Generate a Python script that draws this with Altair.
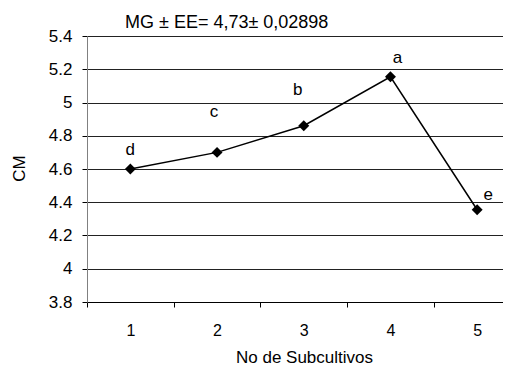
import altair as alt
import pandas as pd

subcultivos = [1, 2, 3, 4, 5]
cm = [4.60, 4.70, 4.86, 5.155, 4.355]
letters = ["d", "c", "b", "a", "e"]

title_text = "MG ± EE= 4,73± 0,02898"
x_title = "No de Subcultivos"
y_title = "CM"
y_ticks = [3.8, 4.0, 4.2, 4.4, 4.6, 4.8, 5.0, 5.2, 5.4]
x_axis_values = [0.5, 1, 1.5, 2, 2.5, 3, 3.5, 4, 4.5, 5]

df = pd.DataFrame({"x": subcultivos, "y": cm, "letter": letters})

FONT = "Liberation Sans"

x_enc = alt.X(
    "x:Q",
    scale=alt.Scale(domain=[0.5, 5.298], nice=False, zero=False),
    axis=alt.Axis(
        title=x_title,
        values=x_axis_values,
        tickCount=len(x_axis_values) + 2,
        grid=False,
        domainColor="black",
        tickColor="black",
        tickSize=5,
        tickOpacity={"condition": {"test": "datum.value % 1 === 0", "value": 0}, "value": 1},
        labelExpr="datum.value % 1 === 0 ? format(datum.value, 'd') : ''",
        labelOverlap=False,
        labelFlush=False,
        labelPadding=15,
        labelFont=FONT,
        labelFontSize=16,
        labelColor="black",
        titleFont=FONT,
        titleFontSize=17,
        titleFontWeight="normal",
        titleColor="black",
        titleBaseline="alphabetic",
        titleX=217,
        titleY=60,
    ),
)

y_enc = alt.Y(
    "y:Q",
    scale=alt.Scale(domain=[3.8, 5.4], nice=False, zero=False),
    axis=alt.Axis(
        title=y_title,
        values=y_ticks,
        tickCount=len(y_ticks) + 2,
        format=".1~f",
        grid=True,
        gridColor="#222222",
        gridWidth=1,
        domainColor="#808080",
        tickColor="black",
        tickSize=5,
        labelPadding=10,
        labelOverlap=False,
        labelFont=FONT,
        labelFontSize=17,
        labelColor="black",
        titleFont=FONT,
        titleFontSize=17,
        titleFontWeight="normal",
        titleColor="black",
        titleBaseline="middle",
        titleX=-68,
        titleY=132,
    ),
)

base = alt.Chart(df)

line = base.mark_line(color="black", strokeWidth=1.5).encode(x=x_enc, y=y_enc)
points = base.mark_point(shape="diamond", filled=True, color="black", size=120, opacity=1).encode(
    x="x:Q", y="y:Q"
)

offsets = {"d": (0, -14), "c": (-3, -35), "b": (-6, -31), "a": (7, -14), "e": (11, -10)}
label_layers = []
for let, (dx, dy) in offsets.items():
    label_layers.append(
        base.transform_filter(alt.datum.letter == let)
        .mark_text(font=FONT, fontSize=17, color="black", align="center", baseline="alphabetic", dx=dx, dy=dy)
        .encode(x="x:Q", y="y:Q", text="letter:N")
    )

chart = (
    alt.layer(line, points, *label_layers)
    .properties(
        width=416,
        height=266,
        autosize=alt.AutoSizeParams(type="none"),
        padding={"left": 79, "top": 28, "right": 0, "bottom": 64},
        title=alt.TitleParams(
            text=title_text,
            anchor="start",
            frame="group",
            dx=38,
            offset=-5,
            font=FONT,
            fontSize=18,
            fontWeight="normal",
            color="black",
        ),
    )
    .configure_view(strokeWidth=0)
    .configure(background="white")
)

chart.save("out.html", embed_options={"renderer": "svg", "actions": False})
